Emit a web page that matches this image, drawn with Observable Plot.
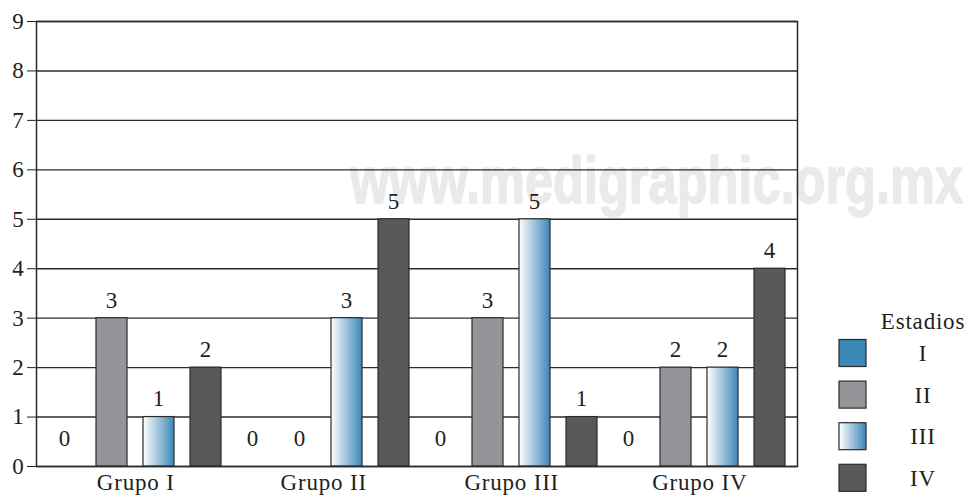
<!DOCTYPE html>
<html lang="es">
<head>
<meta charset="utf-8">
<title>Casos por grupo y estadio</title>
<script src="https://cdn.jsdelivr.net/npm/d3@7"></script>
<script src="https://cdn.jsdelivr.net/npm/@observablehq/plot@0.6"></script>
<style>
  body { margin: 0; background: #fff; }
  #chart { position: relative; width: 967px; height: 498px; font-family: "Liberation Serif", "Times New Roman", serif; }
  #chart svg { display: block; }
  #chart svg text { letter-spacing: 0.8px; }
  #chart svg text.marca { letter-spacing: 0; }
  #leyenda { position: absolute; left: 820px; top: 300px; }
</style>
</head>
<body>
<div id="chart"></div>
<script>
// Grupos (eje x) y estadios (series)
const grupos = ["Grupo I", "Grupo II", "Grupo III", "Grupo IV"];
const estadios = ["I", "II", "III", "IV"];

// Número de casos por estadio, en el orden de los grupos
const estadioI   = [0, 0, 0, 0];
const estadioII  = [3, 0, 3, 2];
const estadioIII = [1, 3, 5, 2];
const estadioIV  = [2, 5, 1, 4];

// Marcas del eje y
const ticksY = [0, 1, 2, 3, 4, 5, 6, 7, 8, 9];

const colores = ["#3a87b8", "#939598", "url(#degradadoIII)", "#58595b"];

const series = [estadioI, estadioII, estadioIII, estadioIV];
const filas = grupos.flatMap((g, gi) =>
  estadios.map((e, ei) => ({ grupo: g, estadio: e, clave: g + " · " + e, casos: series[ei][gi] }))
);

const W = 967, H = 498;
const margen = { left: 36, right: 170, top: 21, bottom: 32 };
const xOpciones = {
  type: "band",
  domain: filas.map(d => d.clave),
  range: [margen.left, W - margen.right],
  paddingInner: 0.345,
  paddingOuter: 0.19
};
const escalaX = Plot.scale({ x: xOpciones });
const paso = escalaX.step ?? ((W - margen.left - margen.right) / (filas.length - 0.345 + 2 * 0.19));

const grafica = Plot.plot({
  width: W,
  height: H,
  marginLeft: margen.left,
  marginRight: margen.right,
  marginTop: margen.top,
  marginBottom: margen.bottom,
  style: { fontFamily: "'Liberation Serif', 'Times New Roman', serif", fontSize: "23px", color: "#231f20", background: "transparent", overflow: "visible" },
  x: { ...xOpciones, axis: null },
  y: { domain: [0, 9], ticks: ticksY, tickSize: 9, tickPadding: 3, label: null, tickFormat: d => String(d) },
  color: { domain: estadios, range: colores },
  marks: [
    Plot.ruleY(ticksY, { stroke: "#2b2b2b", strokeWidth: 1.4 }),
    Plot.barY(filas, { x: "clave", y: "casos", fill: "estadio", stroke: "#2b2b2b", strokeWidth: 1.2 }),
    Plot.frame({ stroke: "#2b2b2b", strokeWidth: 1.5 }),
    Plot.text(filas.filter(d => d.casos > 0), { x: "clave", y: "casos", text: d => String(d.casos), dy: -18, fill: "#231f20" }),
    Plot.text(filas.filter(d => d.casos === 0), { x: "clave", y: "casos", text: d => String(d.casos), dy: -28, fill: "#231f20" }),
    Plot.text(filas.filter(d => d.estadio === "II"), { x: "clave", text: "grupo", frameAnchor: "bottom", dy: 23, dx: paso / 2, fill: "#231f20" })
  ]
});

const svg = d3.select(grafica);
// Degradado blanco → azul del estadio III
svg.insert("defs", ":first-child").html(
  `<linearGradient id="degradadoIII" x1="0" y1="0" x2="1" y2="0">
     <stop offset="0" stop-color="#ffffff"/>
     <stop offset="0.45" stop-color="#a9c8df"/>
     <stop offset="1" stop-color="#3a87b8"/>
   </linearGradient>`
);
// Marca de agua detrás de la gráfica
svg.insert("text", "g")
  .attr("class", "marca")
  .attr("x", 350)
  .attr("y", 203)
  .attr("text-anchor", "start")
  .attr("textLength", 613)
  .attr("lengthAdjust", "spacingAndGlyphs")
  .attr("fill", "#eaeaea")
  .attr("stroke", "#eaeaea")
  .attr("stroke-width", 1.6)
  .attr("stroke-linejoin", "round")
  .attr("font-weight", "700")
  .style("font-family", "'Liberation Sans Narrow', 'Liberation Sans', Arial, sans-serif")
  .style("font-weight", "700")
  .style("font-size", "66px")
  .text("www.medigraphic.org.mx");

const contenedor = document.getElementById("chart");
contenedor.appendChild(grafica);

// Leyenda de estadios
const leyenda = d3.select(contenedor).append("svg")
  .attr("id", "leyenda")
  .attr("width", 147)
  .attr("height", 198)
  .style("font-family", "'Liberation Serif', 'Times New Roman', serif")
  .style("font-size", "23px");
leyenda.append("defs").html(
  `<linearGradient id="degradadoLeyenda" x1="0" y1="0" x2="1" y2="0">
     <stop offset="0" stop-color="#ffffff"/>
     <stop offset="0.45" stop-color="#a9c8df"/>
     <stop offset="1" stop-color="#3a87b8"/>
   </linearGradient>`
);
leyenda.append("text")
  .attr("x", 103).attr("y", 29)
  .attr("text-anchor", "middle")
  .attr("fill", "#231f20")
  .text("Estadios");
const filaLeyenda = leyenda.selectAll("g.fila")
  .data(estadios)
  .join("g")
  .attr("class", "fila")
  .attr("transform", (d, i) => `translate(0,${39.5 + i * 41.6})`);
filaLeyenda.append("rect")
  .attr("x", 19).attr("y", 0).attr("width", 27).attr("height", 27)
  .attr("fill", (d, i) => i === 2 ? "url(#degradadoLeyenda)" : colores[i])
  .attr("stroke", "#2b2b2b").attr("stroke-width", 1.2);
filaLeyenda.append("text")
  .attr("x", 103).attr("y", 13.5)
  .attr("dy", "0.35em")
  .attr("text-anchor", "middle")
  .attr("fill", "#231f20")
  .text(d => d);
</script>
</body>
</html>
